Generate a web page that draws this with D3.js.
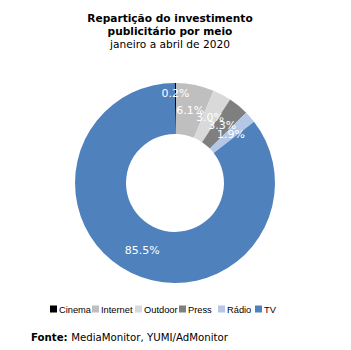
<!DOCTYPE html>
<html><head><meta charset="utf-8">
<script src="https://cdn.jsdelivr.net/npm/d3@7"></script>
<style>body{margin:0;background:#fff}svg{display:block}</style>
</head><body>
<script>
const categories = ["Cinema","Internet","Outdoor","Press","Rádio","TV"];
const values = [0.2, 6.1, 3.0, 3.3, 1.9, 85.5];
const labels = ["0.2%","6.1%","3.0%","3.3%","1.9%","85.5%"];
const colors = ["#000000","#bfbfbf","#d9d9d9","#7f7f7f","#b4c7e7","#4f81bd"];

const W = 351, H = 350;
const svg = d3.select("body").append("svg").attr("width", W).attr("height", H);

// Title
const t = svg.append("text").attr("text-anchor","middle").attr("font-family","DejaVu Sans, Verdana, sans-serif").attr("font-size",10.6).attr("fill","#000");
t.append("tspan").attr("x",170).attr("y",22).attr("font-weight","bold").text("Repartição do investimento");
t.append("tspan").attr("x",170).attr("y",35).attr("font-weight","bold").text("publicitário por meio");
t.append("tspan").attr("x",170).attr("y",48).text("janeiro a abril de 2020");

const cx = 175, cy = 183, rOuter = 100, rInner = 49;
const pie = d3.pie().sort(null).value(d => d.v);
const data = pie(categories.map((c,i)=>({c, v: values[i], l: labels[i], col: colors[i]})));
const arc = d3.arc().innerRadius(rInner).outerRadius(rOuter);
const g = svg.append("g").attr("transform",`translate(${cx},${cy})`);
g.selectAll("path").data(data).join("path").attr("d", arc).attr("fill", d => d.data.col);

const labelArc = d3.arc().innerRadius(rInner).outerRadius(rOuter);
g.selectAll("text.lbl").data(data).join("text").attr("class","lbl")
  .attr("transform", d => {
    let [x,y] = labelArc.centroid(d);
    if (d.data.v < 1) { const a = (d.startAngle+d.endAngle)/2; const r = rOuter-10; x = r*Math.sin(a); y = -r*Math.cos(a); }
    return `translate(${x},${y})`;
  })
  .attr("text-anchor","middle").attr("dy","0.35em")
  .attr("font-family","DejaVu Sans, Verdana, sans-serif").attr("font-size",11).attr("fill","#fff")
  .text(d => d.data.l);

// Legend
const lg = svg.append("g");
const xs = [50, 92, 135, 179, 218, 255];
const items = lg.selectAll("g").data(categories).join("g").attr("transform",(d,i)=>`translate(${xs[i]},309)`);
items.append("rect").attr("x",0).attr("y",-3.5).attr("width",7).attr("height",7).attr("fill",(d,i)=>colors[i]);
items.append("text").attr("x",9).attr("y",3.5).attr("font-family","Liberation Sans, Arial, sans-serif").attr("font-size",9.3).attr("fill","#000").text(d=>d);

// Source
const s = svg.append("text").attr("x",31).attr("y",341).attr("font-family","DejaVu Sans, Verdana, sans-serif").attr("font-size",10.2).attr("fill","#000");
s.append("tspan").attr("font-weight","bold").text("Fonte: ");
s.append("tspan").text("MediaMonitor, YUMI/AdMonitor");
</script>
</body></html>
